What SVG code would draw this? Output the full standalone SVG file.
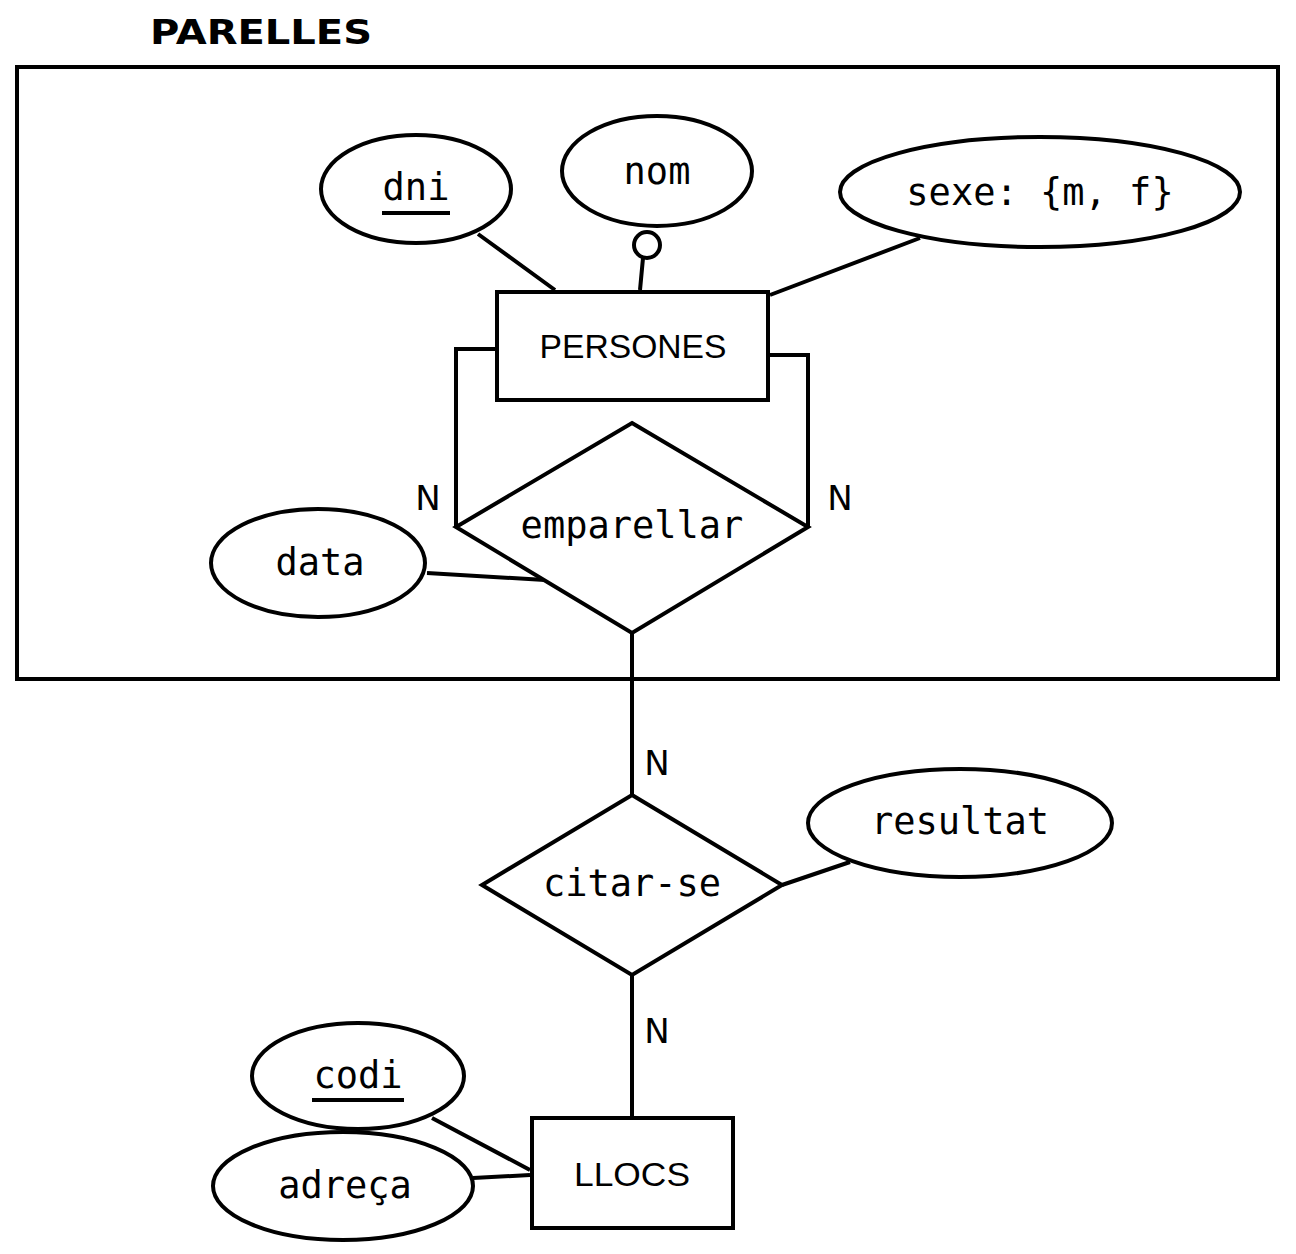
<svg xmlns="http://www.w3.org/2000/svg" width="1296" height="1254" viewBox="0 0 1296 1254">
<style>
.s{fill:#fff;stroke:#000;stroke-width:4}
.l{fill:none;stroke:#000;stroke-width:4}
.t{font-family:"DejaVu Sans Mono",monospace;font-size:37px;text-anchor:middle;fill:#000}
.n{font-family:"DejaVu Sans",sans-serif;font-size:34px;text-anchor:middle;fill:#000}
</style>
<rect width="1296" height="1254" fill="#fff"/>
<text x="150" y="44" font-family="DejaVu Sans,sans-serif" font-weight="bold" font-size="34" textLength="222" lengthAdjust="spacingAndGlyphs">PARELLES</text>
<rect id="parelles" class="l" x="17" y="67" width="1261" height="612"/>
<g id="connectors">
<path class="l" d="M478,234L555,290M643,258L640,290M920,238L770,295M497,349H456V527M768,355H808V527M427,573L545,580M632,633V795M782,885L850,862M632,975V1118M432,1118L530,1170M473,1178L530,1175"/>
<circle class="s" cx="647" cy="245" r="13"/>
<text class="n" x="428" y="510">N</text>
<text class="n" x="840" y="510">N</text>
<text class="n" x="657" y="775">N</text>
<text class="n" x="657" y="1043">N</text>
</g>
<g id="dni"><ellipse class="s" cx="416" cy="189" rx="95" ry="54"/><text class="t" x="416" y="200">dni</text><path class="l" d="M382,213H450"/></g>
<g id="nom"><ellipse class="s" cx="657" cy="171" rx="95" ry="55"/><text class="t" x="657" y="184">nom</text></g>
<g id="sexe"><ellipse class="s" cx="1040" cy="192" rx="200" ry="55"/><text class="t" x="1040" y="205">sexe: {m, f}</text></g>
<g id="persones"><rect class="s" x="497" y="292" width="271" height="108"/><text x="633" y="358" font-family="Liberation Sans,sans-serif" font-size="34" text-anchor="middle" textLength="187" lengthAdjust="spacingAndGlyphs">PERSONES</text></g>
<g id="emparellar"><path class="s" d="M632,423L808,527L632,633L456,527Z"/><text class="t" x="632" y="538">emparellar</text></g>
<g id="data"><ellipse class="s" cx="318" cy="563" rx="107" ry="54"/><text class="t" x="320" y="575">data</text></g>
<g id="citar"><path class="s" d="M632,795L782,885L632,975L482,885Z"/><text class="t" x="632" y="896">citar-se</text></g>
<g id="resultat"><ellipse class="s" cx="960" cy="823" rx="152" ry="54"/><text class="t" x="960" y="834">resultat</text></g>
<g id="llocs"><rect class="s" x="532" y="1118" width="201" height="110"/><text x="632" y="1186" font-family="Liberation Sans,sans-serif" font-size="34" text-anchor="middle" textLength="116" lengthAdjust="spacingAndGlyphs">LLOCS</text></g>
<g id="codi"><ellipse class="s" cx="358" cy="1076" rx="106" ry="53"/><text class="t" x="358" y="1088">codi</text><path class="l" d="M312,1100H404"/></g>
<g id="adreca"><ellipse class="s" cx="343" cy="1186" rx="130" ry="54"/><text class="t" x="345" y="1198">adreça</text></g>
</svg>
